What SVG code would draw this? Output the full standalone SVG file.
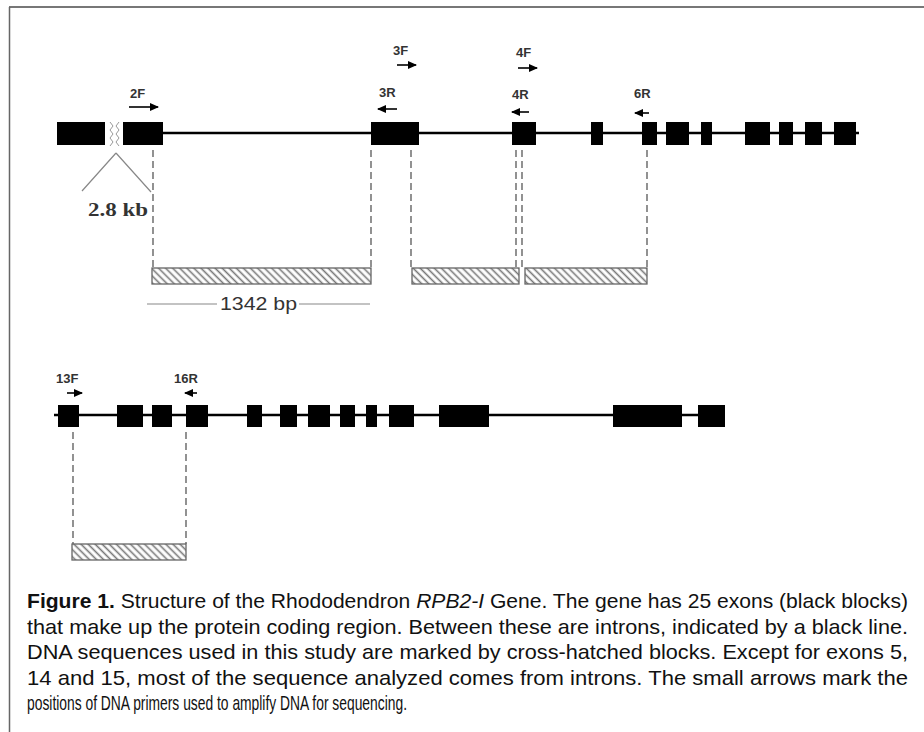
<svg xmlns="http://www.w3.org/2000/svg" width="924" height="732" viewBox="0 0 924 732">
<style>
.exon{fill:#000}
.gene{stroke:#000;stroke-width:2.5;fill:none}
.dash{stroke:#777;stroke-width:1.6;stroke-dasharray:7 4;fill:none}
.hatch{fill:url(#hatch);stroke:#666;stroke-width:1.3}
.plabel{font-family:"Liberation Sans",Arial,sans-serif;font-weight:bold;font-size:13px;fill:#333}
.arrow{stroke:#000;stroke-width:1.6;fill:none;marker-end:url(#head)}
.cap{font-family:"Liberation Sans",Arial,sans-serif;font-size:21px;fill:#111}
.thin{stroke:#888;stroke-width:1.2;fill:none}
</style>
<defs>
<pattern id="hatch" patternUnits="userSpaceOnUse" width="5" height="5" patternTransform="rotate(-45)">
<rect width="5" height="5" fill="#fff"/>
<line x1="2.5" y1="0" x2="2.5" y2="5" stroke="#777" stroke-width="1.6"/>
</pattern>
<marker id="head" markerUnits="userSpaceOnUse" markerWidth="10" markerHeight="8" refX="8" refY="4" orient="auto">
<path d="M0,0 L9,4 L0,8 Z" fill="#000"/>
</marker>
</defs>
<rect width="924" height="732" fill="#fff"/>
<g id="border">
<line x1="9" y1="7" x2="924" y2="7" stroke="#777" stroke-width="2"/>
<line x1="9.5" y1="7" x2="9.5" y2="732" stroke="#666" stroke-width="1.5"/>
</g>
<g id="connectors">
<line class="gene" x1="163" y1="133" x2="859" y2="133"/>
<line class="gene" x1="54" y1="415" x2="698" y2="415"/>
<path class="dash" d="M153,150 V268 M371,150 V268 M411,150 V268 M516,150 V268 M522,150 V268 M647,150 V268"/>
<path class="dash" d="M73,432 V544 M186,432 V544"/>
<path class="thin" d="M116,153 L82,191 M116,153 L151,192"/>
<path d="M110,122 l3,4 l-3,4 l3,4 l-3,4 l3,4 l-3,4 M119,122 l-3,4 l3,4 l-3,4 l3,4 l-3,4 l3,4" stroke="#999" stroke-width="1" fill="none"/>
<path class="arrow" d="M129,107 H158"/>
<path class="arrow" d="M397,65 H416"/>
<path class="arrow" d="M518,68 H537"/>
<path class="arrow" d="M397,109 H378"/>
<path class="arrow" d="M529,112 H512"/>
<path class="arrow" d="M649,113 H635"/>
<path class="arrow" d="M67,393 H82"/>
<path class="arrow" d="M197,393 H185"/>
<path class="thin" d="M147,304 H217 M299,304 H370" stroke="#555"/>
</g>
<g id="exons-row1">
<rect class="exon" x="57" y="122" width="48" height="23"/>
<rect class="exon" x="123" y="122" width="40" height="23"/>
<rect class="exon" x="371" y="122" width="48" height="23"/>
<rect class="exon" x="512" y="122" width="24" height="23"/>
<rect class="exon" x="591" y="122" width="12" height="23"/>
<rect class="exon" x="642" y="122" width="15" height="23"/>
<rect class="exon" x="666" y="122" width="23" height="23"/>
<rect class="exon" x="701" y="122" width="11" height="23"/>
<rect class="exon" x="745" y="122" width="25" height="23"/>
<rect class="exon" x="779" y="122" width="14" height="23"/>
<rect class="exon" x="805" y="122" width="17" height="23"/>
<rect class="exon" x="834" y="122" width="22" height="23"/>
</g>
<g id="exons-row2">
<rect class="exon" x="58" y="405" width="21" height="22"/>
<rect class="exon" x="117" y="405" width="26" height="22"/>
<rect class="exon" x="152" y="405" width="20" height="22"/>
<rect class="exon" x="186" y="405" width="22" height="22"/>
<rect class="exon" x="247" y="405" width="15" height="22"/>
<rect class="exon" x="280" y="405" width="17" height="22"/>
<rect class="exon" x="308" y="405" width="22" height="22"/>
<rect class="exon" x="340" y="405" width="15" height="22"/>
<rect class="exon" x="366" y="405" width="11" height="22"/>
<rect class="exon" x="389" y="405" width="25" height="22"/>
<rect class="exon" x="439" y="405" width="50" height="22"/>
<rect class="exon" x="613" y="405" width="69" height="22"/>
<rect class="exon" x="698" y="405" width="27" height="22"/>
</g>
<g id="amplicons">
<rect class="hatch" x="152" y="268" width="219" height="16"/>
<rect class="hatch" x="412" y="268" width="107" height="16"/>
<rect class="hatch" x="525" y="268" width="122" height="16"/>
<rect class="hatch" x="72" y="544" width="114" height="16"/>
</g>
<g id="labels">
<text class="plabel" x="130" y="98">2F</text>
<text class="plabel" x="393" y="55">3F</text>
<text class="plabel" x="379" y="97">3R</text>
<text class="plabel" x="516" y="57">4F</text>
<text class="plabel" x="512" y="99">4R</text>
<text class="plabel" x="634" y="98">6R</text>
<text class="plabel" x="56" y="383">13F</text>
<text class="plabel" x="174" y="383">16R</text>
<text x="88" y="216" font-family="'Liberation Serif','Times New Roman',serif" font-weight="bold" font-size="18" fill="#333" textLength="60" lengthAdjust="spacingAndGlyphs">2.8 kb</text>
<text x="220" y="310" font-family="'Liberation Sans',Arial,sans-serif" font-size="18" fill="#333" textLength="77" lengthAdjust="spacingAndGlyphs">1342 bp</text>
</g>
<g id="caption">
<text class="cap" x="27" y="608" textLength="881" lengthAdjust="spacingAndGlyphs"><tspan font-weight="bold">Figure 1.</tspan> Structure of the Rhododendron <tspan font-style="italic">RPB2-I</tspan> Gene. The gene has 25 exons (black blocks)</text>
<text class="cap" x="27" y="633.5" textLength="881" lengthAdjust="spacingAndGlyphs">that make up the protein coding region. Between these are introns, indicated by a black line.</text>
<text class="cap" x="27" y="659" textLength="881" lengthAdjust="spacingAndGlyphs">DNA sequences used in this study are marked by cross-hatched blocks. Except for exons 5,</text>
<text class="cap" x="27" y="684.5" textLength="881" lengthAdjust="spacingAndGlyphs">14 and 15, most of the sequence analyzed comes from introns. The small arrows mark the</text>
<text class="cap" x="27" y="710" textLength="380" lengthAdjust="spacingAndGlyphs">positions of DNA primers used to amplify DNA for sequencing.</text>
</g>
</svg>
